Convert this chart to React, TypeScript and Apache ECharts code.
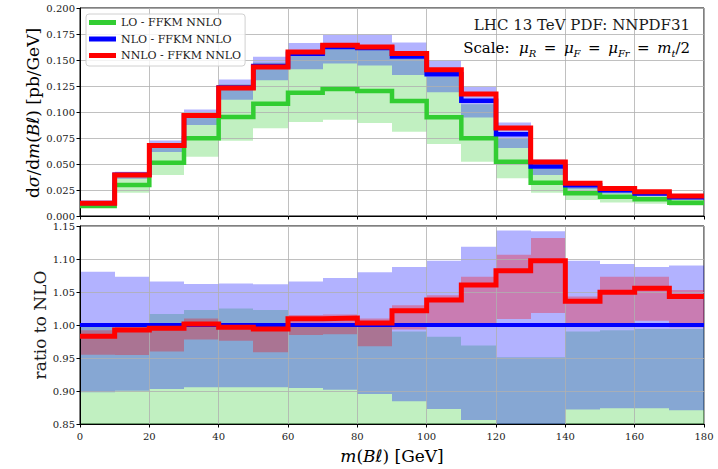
import React, { useEffect, useRef } from "react";
import * as echarts from "echarts";

// ---------- data ----------
const binEdges = [0, 10, 20, 30, 40, 50, 60, 70, 80, 90, 100, 110, 120, 130, 140, 150, 160, 170, 180];

// top panel: dσ/dm(Bℓ) [pb/GeV]
const lo = [0.0096, 0.0298, 0.0513, 0.0748, 0.0952, 0.108, 0.1186, 0.1221, 0.1202, 0.1106, 0.0949, 0.0747, 0.0522, 0.032, 0.0218, 0.0186, 0.016, 0.0128];
const loLow = [0.0085, 0.0224, 0.0394, 0.057, 0.0724, 0.0843, 0.0905, 0.0925, 0.0895, 0.0811, 0.0692, 0.0522, 0.0362, 0.0224, 0.0154, 0.013, 0.0117, 0.0098];
const loHigh = [0.0124, 0.0398, 0.0692, 0.0987, 0.1266, 0.1475, 0.1564, 0.1625, 0.1615, 0.1518, 0.1338, 0.1074, 0.0748, 0.0453, 0.0291, 0.0246, 0.0216, 0.0179];
const nlo = [0.0124, 0.0397, 0.0681, 0.0965, 0.1235, 0.1442, 0.1561, 0.1625, 0.1615, 0.1533, 0.1362, 0.1108, 0.0787, 0.0476, 0.0295, 0.0248, 0.0217, 0.018];
const nloLow = [0.0111, 0.0357, 0.0615, 0.0874, 0.1118, 0.1306, 0.1412, 0.1466, 0.1446, 0.1356, 0.1189, 0.0948, 0.0653, 0.0395, 0.0257, 0.0217, 0.019, 0.0157];
const nloHigh = [0.0134, 0.0426, 0.0726, 0.1025, 0.1313, 0.1531, 0.1664, 0.1741, 0.1744, 0.1668, 0.1495, 0.124, 0.09, 0.0544, 0.0324, 0.0271, 0.0236, 0.0196];
const nnlo = [0.0122, 0.0394, 0.0678, 0.0966, 0.1231, 0.1433, 0.1577, 0.1641, 0.1624, 0.1562, 0.1407, 0.1172, 0.0846, 0.0519, 0.0314, 0.0265, 0.0232, 0.0193];

// bottom panel: ratio to NLO
const rNlo = [1, 1, 1, 1, 1, 1, 1, 1, 1, 1, 1, 1, 1, 1, 1, 1, 1, 1];
const rNloLow = [0.898, 0.9005, 0.903, 0.9055, 0.9055, 0.9055, 0.9045, 0.902, 0.8955, 0.8843, 0.8727, 0.856, 0.83, 0.83, 0.872, 0.874, 0.874, 0.871];
const rNloHigh = [1.0808, 1.0732, 1.066, 1.062, 1.063, 1.0616, 1.066, 1.0712, 1.0798, 1.088, 1.0975, 1.1187, 1.143, 1.142, 1.0975, 1.0924, 1.088, 1.09];
const rNnlo = [0.983, 0.9924, 0.995, 1.0015, 0.9965, 0.994, 1.0095, 1.0105, 1.003, 1.0217, 1.038, 1.0606, 1.0823, 1.0975, 1.0359, 1.0495, 1.0556, 1.043];
const rNnloLow = [0.955, 0.9545, 0.96, 0.978, 0.976, 0.9586, 0.985, 0.986, 0.9677, 0.993, 0.998, 1.0, 1.009, 1.018, 0.999, 1.0, 1.0066, 0.9965];
const rNnloHigh = [0.992, 0.999, 1.0, 1.01, 1.003, 1.0, 1.015, 1.016, 1.01, 1.03, 1.045, 1.0732, 1.1066, 1.132, 1.043, 1.0732, 1.0732, 1.053];
const rLoLow = [0.69, 0.564, 0.579, 0.591, 0.586, 0.585, 0.58, 0.569, 0.554, 0.529, 0.508, 0.471, 0.46, 0.47, 0.52, 0.52, 0.54, 0.54];
const rLoHigh = [1.003, 1.003, 1.0167, 1.0227, 1.025, 1.0227, 1.002, 1.0, 1.0, 0.99, 0.9823, 0.969, 0.951, 0.951, 0.99, 0.992, 0.994, 0.994];

const topTicks = [0, 0.2, 0.025];
const ratioTicks = [0.85, 1.15, 0.05];
const xTicks = [0, 180, 20];

const names = ["LO - FFKM NNLO", "NLO - FFKM NNLO", "NNLO - FFKM NNLO"];

// ---------- styles ----------
const FONT = "'DejaVu Serif', 'DejaVu Sans', serif";
const GREEN = "#32cd32";
const BLUE = "#0000ff";
const RED = "#ff0000";
const TXT = "#1a1a1a";
const EQ = "\u2002=\u2002";

function stepData(vals: number[]) {
  const d = vals.map((v, i) => [binEdges[i], v]);
  d.push([binEdges[vals.length], vals[vals.length - 1]]);
  return d;
}

function bandData(low: number[], high: number[]) {
  return low.map((l, i) => [binEdges[i], binEdges[i + 1], l, high[i]]);
}

function band(name: string, idx: number, low: number[], high: number[], fill: string) {
  return {
    type: "custom",
    name,
    xAxisIndex: idx,
    yAxisIndex: idx,
    z: 1,
    silent: true,
    encode: { x: [0, 1], y: [2, 3] },
    data: bandData(low, high),
    renderItem: (params: any, api: any) => {
      const p0 = api.coord([api.value(0), api.value(3)]);
      const p1 = api.coord([api.value(1), api.value(2)]);
      const x0 = Math.round(p0[0]);
      const x1 = Math.round(p1[0]);
      const cs = params.coordSys;
      const rect = echarts.graphic.clipRectByRect(
        { x: x0, y: p0[1], width: x1 - x0, height: p1[1] - p0[1] },
        { x: cs.x, y: cs.y, width: cs.width, height: cs.height }
      );
      if (!rect) return null;
      return { type: "rect", shape: rect, style: { fill } };
    },
  };
}

function stepLine(name: string, idx: number, vals: number[], color: string, width: number, z: number) {
  return {
    type: "line",
    name,
    xAxisIndex: idx,
    yAxisIndex: idx,
    step: "end",
    data: stepData(vals),
    symbol: "none",
    showSymbol: false,
    color,
    itemStyle: { color },
    lineStyle: { color, width, join: "miter", cap: "butt" },
    z,
    silent: true,
    clip: true,
  };
}

function xAxis(idx: number, labels: boolean) {
  return {
    gridIndex: idx,
    type: "value",
    min: xTicks[0],
    max: xTicks[1],
    interval: xTicks[2],
    z: 2,
    axisLine: { show: true, onZero: false, lineStyle: { color: "#000", width: 1 } },
    axisTick: { show: true, length: 3.5, lineStyle: { color: "#000", width: 1 } },
    axisLabel: { show: labels, fontFamily: FONT, fontSize: 10, color: TXT, margin: 7 },
    splitLine: { show: true, lineStyle: { color: "#b0b0b0", width: 0.8 } },
  };
}

function yAxis(idx: number, t: number[], digits: number) {
  return {
    gridIndex: idx,
    type: "value",
    min: t[0],
    max: t[1],
    interval: t[2],
    z: 2,
    axisLine: { show: true, lineStyle: { color: "#000", width: 1 } },
    axisTick: { show: true, length: 3.5, lineStyle: { color: "#000", width: 1 } },
    axisLabel: {
      fontFamily: FONT,
      fontSize: 10,
      color: TXT,
      margin: 5,
      formatter: (v: number) => v.toFixed(digits),
    },
    splitLine: { show: true, lineStyle: { color: "#b0b0b0", width: 0.8 } },
  };
}

const richBase = (size: number) => ({
  n: { fontFamily: FONT, fontSize: size, color: TXT, lineHeight: size + 5, verticalAlign: "middle" },
  i: { fontFamily: FONT, fontSize: size, fontStyle: "italic", color: TXT, lineHeight: size + 5, verticalAlign: "middle" },
  s: { fontFamily: FONT, fontSize: Math.round(size * 0.68), fontStyle: "italic", color: TXT, lineHeight: size + 5, verticalAlign: "bottom" },
});

export default function App() {
  const ref = useRef<HTMLDivElement>(null);

  useEffect(() => {
    if (!ref.current) return;
    const chart = echarts.init(ref.current, undefined, { renderer: "svg" });

    const option: any = {
      animation: false,
      backgroundColor: "#ffffff",
      grid: [
        { left: 80, right: 14, top: 8, height: 208, show: true, borderColor: "#000", borderWidth: 1, backgroundColor: "transparent" },
        { left: 80, right: 14, top: 226, height: 198, show: true, borderColor: "#000", borderWidth: 1, backgroundColor: "transparent" },
      ],
      xAxis: [xAxis(0, false), xAxis(1, true)],
      yAxis: [yAxis(0, topTicks, 3), yAxis(1, ratioTicks, 2)],
      legend: {
        data: [
          { name: names[0], itemStyle: { color: GREEN } },
          { name: names[1], itemStyle: { color: BLUE } },
          { name: names[2], itemStyle: { color: RED } },
        ],
        orient: "vertical",
        left: 86,
        top: 14,
        padding: [3, 4, 5, 3],
        itemWidth: 27,
        itemHeight: 5,
        itemGap: 5.5,
        icon: "rect",
        backgroundColor: "rgba(255,255,255,0.8)",
        borderColor: "#d0d0d0",
        borderWidth: 1,
        borderRadius: 3,
        selectedMode: false,
        textStyle: { fontFamily: FONT, fontSize: 11, color: TXT },
        z: 6,
      },
      graphic: [
        {
          type: "text",
          x: 690,
          y: 25,
          z: 10,
          style: { text: "LHC 13 TeV PDF: NNPDF31", align: "right", verticalAlign: "middle", fontFamily: FONT, fontSize: 15, fill: TXT },
        },
        {
          type: "text",
          x: 690,
          y: 48,
          z: 10,
          style: {
            text: `{n|Scale:  }{i|μ}{s|R}{n|${EQ}}{i|μ}{s|F}{n|${EQ}}{i|μ}{s|Fr}{n|${EQ}}{i|m}{s|t}{n|/2}`,
            align: "right",
            verticalAlign: "middle",
            rich: richBase(15),
          },
        },
        {
          type: "text",
          x: 33,
          y: 113,
          rotation: Math.PI / 2,
          z: 10,
          style: {
            text: "{n|d}{i|σ}{n|/d}{i|m}{n|(}{i|Bℓ}{n|) [pb/GeV]}",
            align: "center",
            verticalAlign: "middle",
            rich: richBase(17),
          },
        },
        {
          type: "text",
          x: 40,
          y: 325,
          rotation: Math.PI / 2,
          z: 10,
          style: { text: "ratio to NLO", align: "center", verticalAlign: "middle", fontFamily: FONT, fontSize: 17, fill: TXT },
        },
        {
          type: "text",
          x: 392,
          y: 456,
          z: 10,
          style: {
            text: "{i|m}{n|(}{i|Bℓ}{n|) [GeV]}",
            align: "center",
            verticalAlign: "middle",
            rich: richBase(17),
          },
        },
      ],
      series: [
        // top panel bands
        band("LO band", 0, loLow, loHigh, "rgba(50,205,50,0.3)"),
        band("NLO band", 0, nloLow, nloHigh, "rgba(0,0,255,0.3)"),
        // top panel lines
        stepLine(names[0], 0, lo, GREEN, 4.5, 3),
        stepLine(names[1], 0, nlo, BLUE, 4.5, 4),
        stepLine(names[2], 0, nnlo, RED, 5, 5),
        // ratio panel bands
        band("LO ratio band", 1, rLoLow, rLoHigh, "rgba(50,205,50,0.3)"),
        band("NLO ratio band", 1, rNloLow, rNloHigh, "rgba(0,0,255,0.3)"),
        band("NNLO ratio band", 1, rNnloLow, rNnloHigh, "rgba(255,0,0,0.3)"),
        // ratio panel lines
        stepLine("NLO ratio", 1, rNlo, BLUE, 4, 4),
        stepLine("NNLO ratio", 1, rNnlo, RED, 5, 5),
      ],
    };

    chart.setOption(option);
    return () => chart.dispose();
  }, []);

  return (
    <div
      ref={ref}
      style={{ position: "absolute", left: 0, top: 0, width: 718, height: 469, background: "#fff" }}
    />
  );
}
